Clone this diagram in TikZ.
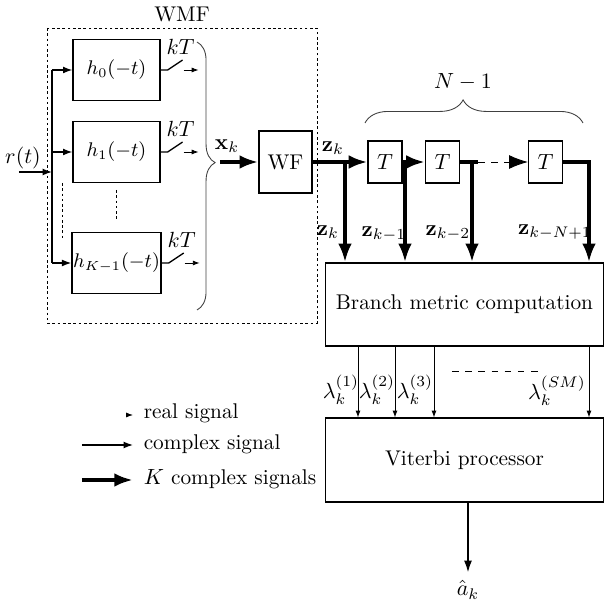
\documentclass[tikz,border=0pt]{standalone}
\usepackage{amsmath, amssymb}
\usetikzlibrary{positioning,arrows.meta,decorations.pathreplacing}
\tikzset{
  filterbox/.style={draw, semithick, minimum width=1.39cm, minimum height=0.98cm, inner sep=0.5pt, font=\fontsize{8.8}{10}\selectfont},
  wfbox/.style={draw, semithick, minimum width=0.85cm, minimum height=0.99cm},
  delaybox/.style={draw, semithick, minimum width=0.54cm, minimum height=0.67cm, inner sep=1pt},
  bigbox/.style={draw, semithick, minimum width=4.46cm, minimum height=1.33cm},
  csig/.style={-{Latex[length=1.5mm,width=1.1mm]}, line width=0.6pt},
  lsig/.style={-{Latex[length=1.1mm,width=0.8mm]}, line width=0.4pt},
  rsig/.style={-{Latex[length=1.1mm,width=0.8mm]}, line width=0.4pt},
  ksig/.style={-{Latex[length=3mm,width=2.2mm]}, line width=1.7pt},
  outsig/.style={-{Latex[length=2mm,width=1.3mm]}, line width=1pt},
  dotsline/.style={dash pattern=on 1.2pt off 1.2pt, thin},
  gbrace/.style={decorate, thin, black!75}
}

\begin{document}
\begin{tikzpicture}[x=0.016cm, y=-0.016cm, >=Latex, every node/.style={font=\fontsize{9.7}{11.6}\selectfont}]
  \useasboundingbox (0,0) rectangle (605,601);

  % whitened matched filter
  \node (wmf) at (182,14) {WMF};
  \draw[dotsline] (47,28) rectangle (317,323);
  \node[filterbox] (h0) at (116.5,70) {$h_0(-t)$};
  \node[filterbox] (h1) at (116.5,152) {$h_1(-t)$};
  \node[filterbox] (hK) at (116.5,263) {$h_{K-1}(-t)$};

  \coordinate (rin) at (19,172);
  \coordinate (bus) at (52,172);
  \coordinate (btop) at (52,70);
  \coordinate (bbot) at (52,263);
  \node (rt) at (23,158) {$r(t)$};
  \draw[csig] (rin) -- (bus);
  \draw[line width=1.2pt] (btop) -- (bbot);
  \draw[csig] (btop) -- (h0.west);
  \draw[csig] (btop |- h1.west) -- (h1.west);
  \draw[csig] (bbot) -- (hK.west);
  \draw[dotsline] (62,183) -- (62,238);
  \draw[dotsline] (116.5,190) -- (116.5,220);

  % samplers
  \foreach \f in {h0,h1,hK}{
    \draw[semithick] (\f.east) -- ++(7,0) -- ++(15,-10);
    \draw[rsig] (\f.east) ++(23,0) -- ++(15,0);
    \path (\f.east) ++(20,-23) node {$kT$};
  }

  \draw[gbrace, decoration={brace, amplitude=0.29cm, aspect=0.45}] (197,42) -- (197,310);
  \node (xk) at (227,146) {$\mathbf{x}_k$};
  \coordinate (bro) at (220,162);

  % whitening filter and delay line
  \node[wfbox] (wf) at (285.5,162) {WF};
  \node[delaybox] (t1) at (385,162) {$T$};
  \node[delaybox] (t2) at (442.5,162) {$T$};
  \node[delaybox] (t3) at (545.5,162) {$T$};
  \node[bigbox] (bmc) at (464.5,304.5) {Branch metric computation};
  \node[bigbox, minimum height=1.34cm] (vit) at (464.5,460) {Viterbi processor};

  \draw[ksig] (bro) -- (wf.west);
  \coordinate (j0) at (345,162);
  \coordinate (j1) at (405,162);
  \coordinate (j2) at (472,162);
  \coordinate (d0) at (478,162);
  \coordinate (j3) at (589,162);
  \draw[ksig] (wf.east) -- (t1.west);
  \draw[ksig] (t1.east) -- (t2.west);
  \draw[line width=1.7pt] (t2.east) -- (d0);
  \draw[dashed, thin, -{Latex[length=3mm,width=2.2mm]}] (d0) -- (t3.west);
  \draw[ksig] (t3.east) -- (j3) -- (j3 |- bmc.north);
  \foreach \j in {j0,j1,j2}
    \draw[ksig] (\j) -- (\j |- bmc.north);

  \node at (333,148) {$\mathbf{z}_k$};
  \node at (328,232) {$\mathbf{z}_k$};
  \node at (384,234) {$\mathbf{z}_{k-1}$};
  \node at (448,233) {$\mathbf{z}_{k-2}$};
  \node at (555,232) {$\mathbf{z}_{k-N+1}$};

  \draw[gbrace, decoration={brace, amplitude=0.37cm, aspect=0.45}] (365,123) -- (583,123);
  \node (nm1) at (463,82) {$N-1$};

  % metrics
  \foreach \x in {358,395,434,589}
    \draw[lsig] (\x,0 |- bmc.south) -- (\x,0 |- vit.north);
  \node at (341,390) {$\lambda_k^{(1)}$};
  \node at (377,390) {$\lambda_k^{(2)}$};
  \node at (415,390) {$\lambda_k^{(3)}$};
  \node at (557,391) {$\lambda_k^{(SM)}$};
  \draw[dashed, thin] (452,371) -- (543,371);

  \coordinate (ahat) at (468,573);
  \draw[outsig] (vit.south -| ahat) -- (ahat);
  \node at (468,590) {$\hat{a}_k$};

  % legend
  \coordinate (lr) at (127,415);
  \coordinate (lc) at (82,445);
  \coordinate (lk) at (82,480);
  \draw[rsig] (lr) -- ++(6,0);
  \node[anchor=west] at (136,413) {real signal};
  \draw[csig] (lc) -- ++(51,0);
  \node[anchor=west] at (136,444) {complex signal};
  \draw[ksig] (lk) -- ++(51,0);
  \node[anchor=west] at (136,479) {$K$ complex signals};
\end{tikzpicture}
\end{document}
